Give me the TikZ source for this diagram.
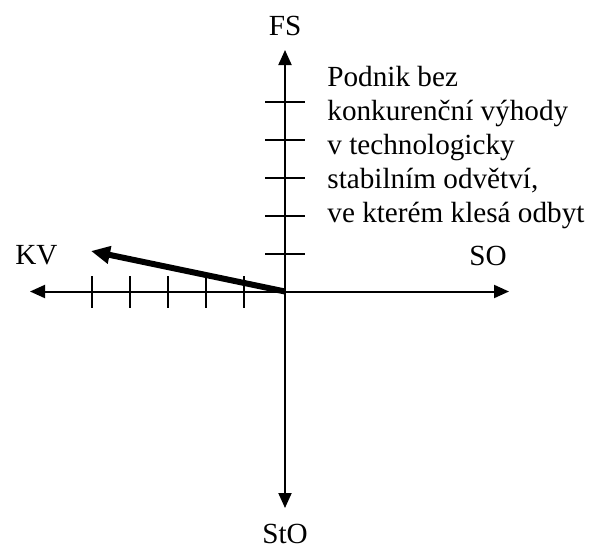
\documentclass[tikz,border=0pt]{standalone}
\usepackage{fontspec}
\setmainfont{Liberation Serif}
\usetikzlibrary{arrows.meta}
\begin{document}
\begin{tikzpicture}[x=0.5pt,y=-0.5pt,
  axis/.style={line width=1pt,-{Triangle[length=7.5pt,width=6.5pt]}},
  tick/.style={line width=1pt},
  vec/.style={line width=3pt,-{Triangle[length=9.5pt,width=8.5pt]}},
  lbl/.style={inner sep=0pt,font=\fontsize{14.6pt}{17pt}\selectfont}]
\useasboundingbox (0,0) rectangle (599,552);
\coordinate (O) at (285,291.5);
\coordinate (top) at (285,50);
\coordinate (bot) at (285,508);
\coordinate (left) at (30,291.5);
\coordinate (right) at (509,291.5);
\coordinate (kvend) at (91,251);
\draw[axis] (O) -- (top);
\draw[axis] (O) -- (bot);
\draw[axis] (O) -- (left);
\draw[axis] (O) -- (right);
\foreach \y in {102.3,140,178.3,216,254}
  \draw[tick] (265,\y) -- (305,\y);
\foreach \x in {92,129.5,167.5,206,244}
  \draw[tick] (\x,276) -- (\x,308);
\draw[vec] (O) -- (kvend);
\node[lbl,anchor=base] (fs) at (285,35) {FS};
\node[lbl,anchor=base] (sto) at (285,543) {StO};
\node[lbl,anchor=base west] (kv) at (15,264) {KV};
\node[lbl,anchor=base west] (so) at (469,265) {SO};
\node[lbl,anchor=base west,align=left] (txt) at (327,222) {Podnik bez\\konkurenční výhody\\v technologicky\\stabilním odvětví,\\ve kterém klesá odbyt};
\end{tikzpicture}
\end{document}
